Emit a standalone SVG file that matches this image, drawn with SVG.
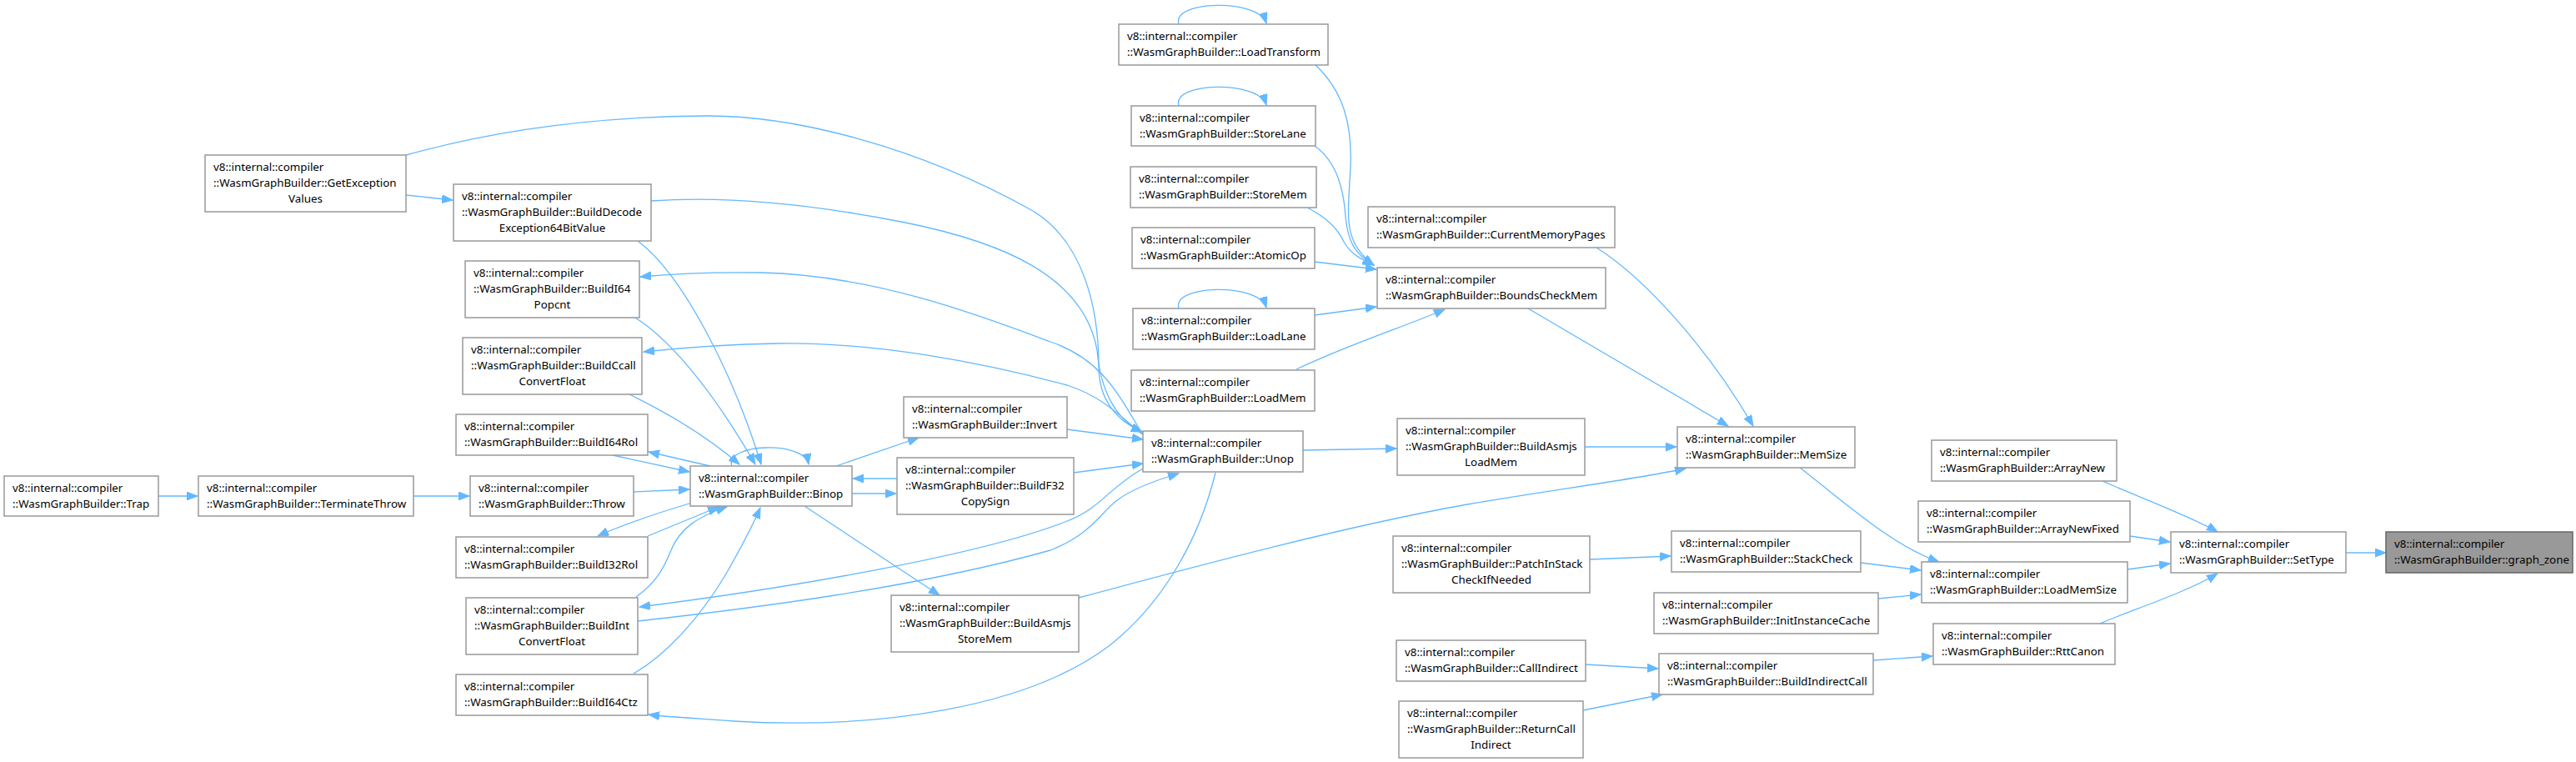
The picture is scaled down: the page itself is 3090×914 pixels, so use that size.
<svg xmlns="http://www.w3.org/2000/svg" width="3090" height="914" viewBox="0 0 3090 914">
<style>
.node rect{fill:#ffffff;stroke:#999999;stroke-width:1.5}
.node.hl rect{fill:#999999;stroke:#666666}
.node text{font-family:"Noto Sans","Liberation Sans",sans-serif;font-size:13.33px;fill:#000000}
.node text.c{text-anchor:middle}
.edges path{fill:none;stroke:#63b8ff;stroke-width:1.3;marker-end:url(#ah)}
</style>
<defs>
<marker id="ah" markerUnits="userSpaceOnUse" markerWidth="14" markerHeight="12" refX="13" refY="5" orient="auto">
<path d="M0,0 L13,5 L0,10 z" fill="#63b8ff" stroke="#63b8ff" stroke-width="1"/>
</marker>
</defs>
<rect x="0" y="0" width="3090" height="914" fill="#ffffff"/>
<g class="edges">
<path d="M2814,663 L2862,663"/>
<path d="M2522,577 C2555,592 2630,620 2660,638"/>
<path d="M2555,643 L2603,650"/>
<path d="M2552,683 L2603,676"/>
<path d="M2519,748 C2550,734 2620,712 2660,688"/>
<path d="M2159,561 C2210,600 2270,655 2326,674"/>
<path d="M2232,675 L2304,684"/>
<path d="M2253,718 L2304,713"/>
<path d="M2247,792 L2318,787"/>
<path d="M1902,797 L1989,802"/>
<path d="M1899,852 L1994,833"/>
<path d="M1907,671 L2004,667"/>
<path d="M1901,536 L2011,536"/>
<path d="M1833,370 L2073,511"/>
<path d="M1915,297 C1975,335 2050,420 2103,511"/>
<path d="M1294,717 C1450,675 1620,630 1760,605 C1880,585 1960,575 2022,562"/>
<path d="M1563,540 L1675,538"/>
<path d="M1578,78 C1612,110 1622,150 1620,200 C1617,260 1610,290 1648,318"/>
<path d="M1577,175 C1605,195 1612,230 1614,260 C1617,290 1625,305 1648,318"/>
<path d="M1568,249 C1590,260 1605,275 1612,290 C1620,305 1635,312 1648,318"/>
<path d="M1577,314 L1651,323"/>
<path d="M1577,378 L1651,368"/>
<path d="M1555,443 C1620,412 1690,390 1733,371"/>
<path d="M1414,29 C1405,0 1510,-2 1519,28"/>
<path d="M1414,127 C1405,98 1510,96 1519,126"/>
<path d="M1414,370 C1405,341 1510,339 1519,369"/>
<path d="M878,559 C868,532 965,528 970,557"/>
<path d="M1280,515 L1371,527"/>
<path d="M1288,567 L1371,556"/>
<path d="M1003,559 L1102,525"/>
<path d="M1076,574 L1023,574"/>
<path d="M1022,592 L1075,592"/>
<path d="M965,607 L1127,714"/>
<path d="M487,186 C580,160 700,140 846,139 C950,138 1100,175 1239,253 C1300,290 1318,370 1318,440 C1318,480 1340,505 1370,518"/>
<path d="M781,241 C850,236 950,240 1086,267 C1200,290 1300,330 1316,420 C1320,470 1340,505 1370,518"/>
<path d="M1370,520 C1340,470 1320,430 1260,410 C1180,380 1050,330 913,327 C850,326 800,329 768,332"/>
<path d="M1370,521 C1340,495 1320,475 1280,462 C1180,435 1050,410 933,412 C860,413 810,418 772,422"/>
<path d="M852,559 L778,542"/>
<path d="M735,546 L827,566"/>
<path d="M760,590 L827,587"/>
<path d="M830,603 C790,615 750,628 717,643"/>
<path d="M777,643 L862,608"/>
<path d="M763,716 C785,700 795,685 805,660 C815,635 835,620 872,608"/>
<path d="M1371,562 C1330,585 1320,610 1280,625 C1180,665 950,705 767,728"/>
<path d="M765,745 C900,730 1100,705 1260,660 C1310,640 1320,615 1340,600 C1360,585 1390,575 1414,568"/>
<path d="M760,808 C800,785 840,740 870,690 C890,655 903,630 912,609"/>
<path d="M1458,567 C1440,640 1400,720 1330,775 C1230,850 1050,875 880,865 C840,862 800,860 778,857"/>
<path d="M755,473 C800,495 850,525 887,557"/>
<path d="M762,381 C800,405 850,460 906,557"/>
<path d="M765,289 C820,330 880,450 913,557"/>
<path d="M487,234 L543,240"/>
<path d="M190,595 L237,595"/>
<path d="M496,595 L563,595"/>
</g>
<g id="graph_zone" class="node hl"><rect x="2862" y="638" width="224" height="49"/><text x="2872" y="657">v8::internal::compiler</text><text x="2872" y="676">::WasmGraphBuilder::graph_zone</text></g>
<g id="SetType" class="node"><rect x="2604" y="638" width="210" height="49"/><text x="2614" y="657">v8::internal::compiler</text><text x="2614" y="676">::WasmGraphBuilder::SetType</text></g>
<g id="ArrayNew" class="node"><rect x="2317" y="528" width="222" height="49"/><text x="2327" y="547">v8::internal::compiler</text><text x="2327" y="566">::WasmGraphBuilder::ArrayNew</text></g>
<g id="ArrayNewFixed" class="node"><rect x="2301" y="601" width="254" height="49"/><text x="2311" y="620">v8::internal::compiler</text><text x="2311" y="639">::WasmGraphBuilder::ArrayNewFixed</text></g>
<g id="LoadMemSize" class="node"><rect x="2305" y="674" width="247" height="49"/><text x="2315" y="693">v8::internal::compiler</text><text x="2315" y="712">::WasmGraphBuilder::LoadMemSize</text></g>
<g id="RttCanon" class="node"><rect x="2319" y="748" width="218" height="49"/><text x="2329" y="767">v8::internal::compiler</text><text x="2329" y="786">::WasmGraphBuilder::RttCanon</text></g>
<g id="MemSize" class="node"><rect x="2012" y="512" width="213" height="49"/><text x="2022" y="531">v8::internal::compiler</text><text x="2022" y="550">::WasmGraphBuilder::MemSize</text></g>
<g id="StackCheck" class="node"><rect x="2005" y="637" width="227" height="49"/><text x="2015" y="656">v8::internal::compiler</text><text x="2015" y="675">::WasmGraphBuilder::StackCheck</text></g>
<g id="InitInstanceCache" class="node"><rect x="1984" y="711" width="269" height="49"/><text x="1994" y="730">v8::internal::compiler</text><text x="1994" y="749">::WasmGraphBuilder::InitInstanceCache</text></g>
<g id="BuildIndirectCall" class="node"><rect x="1990" y="784" width="257" height="49"/><text x="2000" y="803">v8::internal::compiler</text><text x="2000" y="822">::WasmGraphBuilder::BuildIndirectCall</text></g>
<g id="CallIndirect" class="node"><rect x="1675" y="768" width="227" height="49"/><text x="1685" y="787">v8::internal::compiler</text><text x="1685" y="806">::WasmGraphBuilder::CallIndirect</text></g>
<g id="ReturnCallIndirect" class="node"><rect x="1678" y="841" width="221" height="68"/><text x="1688" y="860">v8::internal::compiler</text><text x="1688" y="879">::WasmGraphBuilder::ReturnCall</text><text class="c" x="1788.5" y="898">Indirect</text></g>
<g id="PatchInStackCheckIfNeeded" class="node"><rect x="1671" y="643" width="236" height="68"/><text x="1681" y="662">v8::internal::compiler</text><text x="1681" y="681">::WasmGraphBuilder::PatchInStack</text><text class="c" x="1789" y="700">CheckIfNeeded</text></g>
<g id="BuildAsmjsLoadMem" class="node"><rect x="1676" y="502" width="225" height="68"/><text x="1686" y="521">v8::internal::compiler</text><text x="1686" y="540">::WasmGraphBuilder::BuildAsmjs</text><text class="c" x="1788.5" y="559">LoadMem</text></g>
<g id="BoundsCheckMem" class="node"><rect x="1652" y="321" width="274" height="49"/><text x="1662" y="340">v8::internal::compiler</text><text x="1662" y="359">::WasmGraphBuilder::BoundsCheckMem</text></g>
<g id="CurrentMemoryPages" class="node"><rect x="1641" y="248" width="296" height="49"/><text x="1651" y="267">v8::internal::compiler</text><text x="1651" y="286">::WasmGraphBuilder::CurrentMemoryPages</text></g>
<g id="LoadTransform" class="node"><rect x="1342" y="29" width="251" height="49"/><text x="1352" y="48">v8::internal::compiler</text><text x="1352" y="67">::WasmGraphBuilder::LoadTransform</text></g>
<g id="StoreLane" class="node"><rect x="1357" y="127" width="221" height="48"/><text x="1367" y="146">v8::internal::compiler</text><text x="1367" y="165">::WasmGraphBuilder::StoreLane</text></g>
<g id="StoreMem" class="node"><rect x="1356" y="200" width="223" height="49"/><text x="1366" y="219">v8::internal::compiler</text><text x="1366" y="238">::WasmGraphBuilder::StoreMem</text></g>
<g id="AtomicOp" class="node"><rect x="1358" y="273" width="219" height="49"/><text x="1368" y="292">v8::internal::compiler</text><text x="1368" y="311">::WasmGraphBuilder::AtomicOp</text></g>
<g id="LoadLane" class="node"><rect x="1359" y="370" width="218" height="49"/><text x="1369" y="389">v8::internal::compiler</text><text x="1369" y="408">::WasmGraphBuilder::LoadLane</text></g>
<g id="LoadMem" class="node"><rect x="1357" y="444" width="220" height="49"/><text x="1367" y="463">v8::internal::compiler</text><text x="1367" y="482">::WasmGraphBuilder::LoadMem</text></g>
<g id="Unop" class="node"><rect x="1371" y="517" width="192" height="49"/><text x="1381" y="536">v8::internal::compiler</text><text x="1381" y="555">::WasmGraphBuilder::Unop</text></g>
<g id="Invert" class="node"><rect x="1084" y="476" width="196" height="49"/><text x="1094" y="495">v8::internal::compiler</text><text x="1094" y="514">::WasmGraphBuilder::Invert</text></g>
<g id="BuildF32CopySign" class="node"><rect x="1076" y="549" width="212" height="68"/><text x="1086" y="568">v8::internal::compiler</text><text x="1086" y="587">::WasmGraphBuilder::BuildF32</text><text class="c" x="1182" y="606">CopySign</text></g>
<g id="BuildAsmjsStoreMem" class="node"><rect x="1069" y="714" width="225" height="68"/><text x="1079" y="733">v8::internal::compiler</text><text x="1079" y="752">::WasmGraphBuilder::BuildAsmjs</text><text class="c" x="1181.5" y="771">StoreMem</text></g>
<g id="Binop" class="node"><rect x="828" y="559" width="194" height="48"/><text x="838" y="578">v8::internal::compiler</text><text x="838" y="597">::WasmGraphBuilder::Binop</text></g>
<g id="GetExceptionValues" class="node"><rect x="246" y="186" width="241" height="68"/><text x="256" y="205">v8::internal::compiler</text><text x="256" y="224">::WasmGraphBuilder::GetException</text><text class="c" x="366.5" y="243">Values</text></g>
<g id="BuildDecodeException64BitValue" class="node"><rect x="544" y="221" width="237" height="68"/><text x="554" y="240">v8::internal::compiler</text><text x="554" y="259">::WasmGraphBuilder::BuildDecode</text><text class="c" x="662.5" y="278">Exception64BitValue</text></g>
<g id="BuildI64Popcnt" class="node"><rect x="558" y="313" width="209" height="68"/><text x="568" y="332">v8::internal::compiler</text><text x="568" y="351">::WasmGraphBuilder::BuildI64</text><text class="c" x="662.5" y="370">Popcnt</text></g>
<g id="BuildCcallConvertFloat" class="node"><rect x="555" y="405" width="215" height="68"/><text x="565" y="424">v8::internal::compiler</text><text x="565" y="443">::WasmGraphBuilder::BuildCcall</text><text class="c" x="662.5" y="462">ConvertFloat</text></g>
<g id="BuildI64Rol" class="node"><rect x="547" y="497" width="230" height="49"/><text x="557" y="516">v8::internal::compiler</text><text x="557" y="535">::WasmGraphBuilder::BuildI64Rol</text></g>
<g id="Throw" class="node"><rect x="564" y="571" width="196" height="48"/><text x="574" y="590">v8::internal::compiler</text><text x="574" y="609">::WasmGraphBuilder::Throw</text></g>
<g id="BuildI32Rol" class="node"><rect x="547" y="644" width="230" height="49"/><text x="557" y="663">v8::internal::compiler</text><text x="557" y="682">::WasmGraphBuilder::BuildI32Rol</text></g>
<g id="BuildIntConvertFloat" class="node"><rect x="559" y="717" width="206" height="68"/><text x="569" y="736">v8::internal::compiler</text><text x="569" y="755">::WasmGraphBuilder::BuildInt</text><text class="c" x="662" y="774">ConvertFloat</text></g>
<g id="BuildI64Ctz" class="node"><rect x="547" y="809" width="230" height="49"/><text x="557" y="828">v8::internal::compiler</text><text x="557" y="847">::WasmGraphBuilder::BuildI64Ctz</text></g>
<g id="TerminateThrow" class="node"><rect x="238" y="571" width="258" height="48"/><text x="248" y="590">v8::internal::compiler</text><text x="248" y="609">::WasmGraphBuilder::TerminateThrow</text></g>
<g id="Trap" class="node"><rect x="5" y="571" width="185" height="48"/><text x="15" y="590">v8::internal::compiler</text><text x="15" y="609">::WasmGraphBuilder::Trap</text></g>
</svg>
